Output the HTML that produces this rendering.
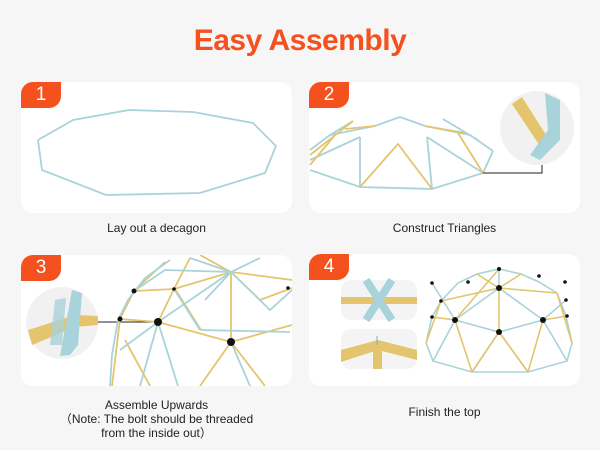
<!DOCTYPE html>
<html><head><style>
body{margin:0;width:600px;height:450px;background:#f6f6f6;font-family:"Liberation Sans","Noto Sans CJK SC",sans-serif;position:relative;overflow:hidden}
.t{position:absolute;left:0;width:600px;text-align:center;top:24px;font-size:30px;font-weight:bold;color:#f4511e;letter-spacing:-0.5px}
.card{position:absolute;background:#fff;border-radius:12px;overflow:hidden}
.b{position:absolute;left:0;top:0;width:40px;height:26px;background:#f4511e;color:#fff;font-size:19px;text-align:center;line-height:26px;border-radius:0 0 12px 0}
.c{position:absolute;font-size:12px;color:#222;text-align:center;line-height:14px}
svg{position:absolute;left:0;top:0}
</style></head><body>
<div class="t">Easy Assembly</div>

<div class="card" style="left:21px;top:82px;width:271px;height:131px">
<svg width="271" height="131"><g transform="translate(-21,-82)"><polyline fill="none" stroke="#a9d3da" stroke-width="1.8" points="38,140 73,120 129,110 193,112 253,123 276,146 265,173 200,193 106,195 42,170 38,140"/></g></svg>
<div class="b">1</div></div>
<div class="c" style="left:21px;top:221px;width:271px">Lay out a decagon</div>

<div class="card" style="left:309px;top:82px;width:271px;height:131px">
<svg width="271" height="131"><g transform="translate(-309,-82)">
<g fill="none" stroke-width="1.8">
<path stroke="#a9d3da" d="M310,170 L360,187 L432,189 L483,173 L493,151 M360,187 L360,137 M427,137 L483,173 M427,137 L432,189 M330,135 L375,126 L400,117 L425,126 L470,135 L493,151 M360,137 L310,160 M353,121 L330,135 M310,150 L330,135 M443,119 L478,140"/>
<path stroke="#e4c46c" d="M360,187 L398,144 L432,189 M310,165 L335,135 M375,126 L345,129 M425,126 L465,133 M458,133 L483,173 M310,155 L353,121"/>
</g>
<polyline points="483,173 542,173 542,165" fill="none" stroke="#222" stroke-width="1"/>
<circle cx="537" cy="128" r="37" fill="#f1f1f1"/>
<path d="M512,104 L522,97 L548,138 L540,146 Z" fill="#e4c46c"/>
<path d="M545,93 L560,100 L560,140 L540,160 L530,155 L548,130 Z" fill="#a9d3da"/>
</g></svg>
<div class="b">2</div></div>
<div class="c" style="left:309px;top:221px;width:271px">Construct Triangles</div>

<div class="card" style="left:21px;top:255px;width:271px;height:131px">
<svg width="271" height="131"><g transform="translate(-21,-255)">
<circle cx="62" cy="323" r="36" fill="#f1f1f1"/>
<path d="M28,330 L75,315 L98,316 L98,325 L75,327 L32,345 Z" fill="#e4c46c"/>
<path d="M72,290 L82,293 L78,345 L70,355 L60,356 Z" fill="#a9d3da"/>
<path d="M55,300 L66,298 L62,345 L50,345 Z" fill="#a9d3da" opacity=".8"/>
<line x1="98" y1="322" x2="158" y2="322" stroke="#222"/>
<g fill="none" stroke-width="1.8">
<path stroke="#e4c46c" d="M112,386 L120,319 L134,291 L165,262 M120,319 L158,322 L231,342 L292,325 M134,291 L174,289 L231,272 L292,280 M158,322 L174,289 M174,289 L190,258 M231,272 L231,342 M231,342 L200,386 M231,342 L265,386 M125,340 L150,386 M231,272 L260,300 L292,288 M175,289 L201,330 M231,272 L200,255"/>
<path stroke="#a9d3da" d="M110,386 L112,355 L118,320 L128,300 L145,278 L170,260 M158,322 L231,272 M158,322 L178,386 M158,322 L140,386 M134,291 L165,270 L231,272 M201,330 L290,332 M231,272 L270,310 L292,290 M174,289 L200,330 M231,342 L250,386 M120,350 L158,322 M190,258 L231,272 L260,258 M231,272 L205,300"/>
</g>
<g fill="#111"><circle cx="158" cy="322" r="4"/><circle cx="231" cy="342" r="4"/><circle cx="120" cy="319" r="2.5"/><circle cx="134" cy="291" r="2.5"/><circle cx="174" cy="289" r="1.8"/><circle cx="288" cy="288" r="1.8"/></g>
</g></svg>
<div class="b">3</div></div>
<div class="c" style="left:21px;top:398px;width:271px">Assemble Upwards<br>（Note: The bolt should be threaded<br>from the inside out）</div>

<div class="card" style="left:309px;top:254px;width:271px;height:132px">
<svg width="271" height="132"><g transform="translate(-309,-254)">
<rect x="341" y="280" width="76" height="40" rx="10" fill="#f4f4f4"/>
<rect x="341" y="329" width="76" height="40" rx="10" fill="#f4f4f4"/>
<rect x="341" y="297" width="76" height="7" fill="#e4c46c"/>
<path d="M366,280 L392,320 M392,280 L366,320" stroke="#a9d3da" stroke-width="8"/>
<path d="M341,350 L378,340 L417,350 L417,360 L378,350 L341,362 Z" fill="#e4c46c"/>
<rect x="373" y="345" width="9" height="24" fill="#e4c46c"/>
<line x1="377" y1="336" x2="377" y2="345" stroke="#8ab" stroke-width="1"/>
<g fill="none" stroke-width="1.6">
<path stroke="#a9d3da" d="M426,343 L432,317 L441,301 L458,283 L477,274 L499,269 L521,274 L539,282 L557,293 L566,316 L572,343 L567,361 L528,372 L472,372 L433,361 L426,343 M499,288 L455,320 L499,332 L543,320 Z M455,320 L433,361 M543,320 L567,361 M499,288 L499,269 M455,320 L432,283 M543,320 L566,300 M499,332 L472,372 M499,332 L528,372"/>
<path stroke="#e4c46c" d="M432,317 L455,320 M543,320 L567,316 M499,288 L441,301 M499,288 L557,293 M455,320 L472,372 M543,320 L528,372 M499,332 L472,372 M499,332 L528,372 M426,343 L441,301 M572,343 L557,293 M477,274 L499,288 L521,274 M499,288 L499,332 M455,320 L499,269"/>
</g>
<g fill="#111"><circle cx="499" cy="288" r="3"/><circle cx="455" cy="320" r="3"/><circle cx="543" cy="320" r="3"/><circle cx="499" cy="332" r="3"/><circle cx="499" cy="269" r="2"/><circle cx="432" cy="283" r="1.8"/><circle cx="539" cy="276" r="1.8"/><circle cx="468" cy="282" r="1.8"/><circle cx="565" cy="282" r="1.8"/><circle cx="441" cy="301" r="1.8"/><circle cx="566" cy="300" r="1.8"/><circle cx="432" cy="317" r="1.8"/><circle cx="567" cy="316" r="1.8"/></g>
</g></svg>
<div class="b">4</div></div>
<div class="c" style="left:309px;top:405px;width:271px">Finish the top</div>
</body></html>
